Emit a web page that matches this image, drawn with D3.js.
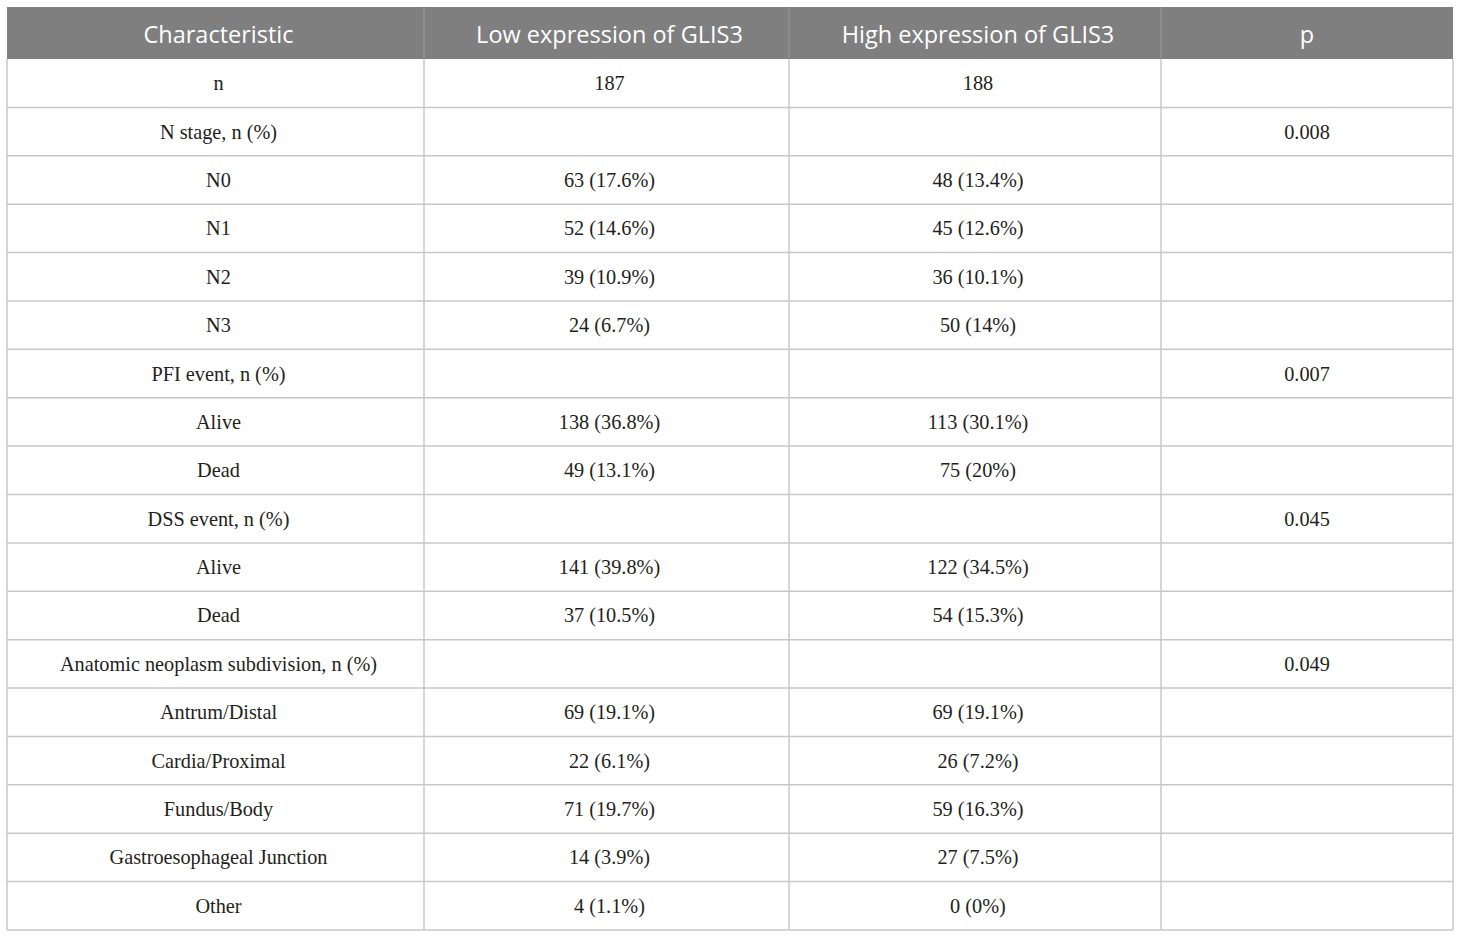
<!DOCTYPE html>
<html>
<head>
<meta charset="utf-8">
<script src="https://cdn.jsdelivr.net/npm/d3@7"></script>
<style>
  body { margin: 0; background: #fff; }
</style>
</head>
<body>
<svg id="chart" width="1460" height="938"></svg>
<script>
// table content
var headers = ['Characteristic', 'Low expression of GLIS3', 'High expression of GLIS3', 'p'];
var characteristics = ['n', 'N stage, n (%)', 'N0', 'N1', 'N2', 'N3', 'PFI event, n (%)', 'Alive', 'Dead',
    'DSS event, n (%)', 'Alive', 'Dead', 'Anatomic neoplasm subdivision, n (%)', 'Antrum/Distal',
    'Cardia/Proximal', 'Fundus/Body', 'Gastroesophageal Junction', 'Other'];
var lowExpr = ['187', '', '63 (17.6%)', '52 (14.6%)', '39 (10.9%)', '24 (6.7%)', '', '138 (36.8%)', '49 (13.1%)',
    '', '141 (39.8%)', '37 (10.5%)', '', '69 (19.1%)', '22 (6.1%)', '71 (19.7%)', '14 (3.9%)', '4 (1.1%)'];
var highExpr = ['188', '', '48 (13.4%)', '45 (12.6%)', '36 (10.1%)', '50 (14%)', '', '113 (30.1%)', '75 (20%)',
    '', '122 (34.5%)', '54 (15.3%)', '', '69 (19.1%)', '26 (7.2%)', '59 (16.3%)', '27 (7.5%)', '0 (0%)'];
var pValues = ['', '0.008', '', '', '', '', '0.007', '', '', '0.045', '', '', '0.049', '', '', '', '', ''];

var rows = characteristics.map(function (c, i) {
    return [c, lowExpr[i], highExpr[i], pValues[i]];
});

var svg = d3.select('#chart');
var tableLeft = 7, tableRight = 1453, tableTop = 7, headH = 52, tableBottom = 930;
var colEdges = [tableLeft, 424, 789, 1161, tableRight];
var textShift = [3, 3, 3, 0]; // cells are padded a little more on the left

function colMid(i) { return (colEdges[i] + colEdges[i + 1]) / 2 + textShift[i]; }

// row scale
var y = d3.scaleBand()
    .domain(d3.range(rows.length))
    .range([tableTop + headH, tableBottom])
    .paddingInner(0);

// header
svg.append('rect')
    .attr('x', tableLeft).attr('y', tableTop)
    .attr('width', tableRight - tableLeft).attr('height', headH)
    .attr('fill', '#7f7f7f');

svg.selectAll('.hline')
    .data(d3.range(1, headers.length))
    .enter().append('line')
    .attr('x1', function (d) { return colEdges[d]; })
    .attr('x2', function (d) { return colEdges[d]; })
    .attr('y1', tableTop).attr('y2', tableTop + headH)
    .style('stroke', '#9a9a9a')
    .style('stroke-width', 1);

svg.selectAll('.htext')
    .data(headers)
    .enter().append('text')
    .attr('x', function (d, i) { return colMid(i); })
    .attr('y', tableTop + headH / 2 + 1)
    .attr('text-anchor', 'middle')
    .attr('dominant-baseline', 'central')
    .style('font-family', '"Open Sans", sans-serif')
    .style('font-size', '23.5px')
    .style('fill', '#ffffff')
    .text(function (d) { return d; });

// body grid
var grid = svg.append('g')
    .style('stroke', '#c8c8c8')
    .style('stroke-width', 1.5)
    .style('fill', 'none');

grid.selectAll('.rowline')
    .data(d3.range(rows.length))
    .enter().append('line')
    .attr('x1', tableLeft).attr('x2', tableRight)
    .attr('y1', function (d) { return y(d) + y.bandwidth(); })
    .attr('y2', function (d) { return y(d) + y.bandwidth(); });

grid.selectAll('.colline')
    .data(colEdges)
    .enter().append('line')
    .attr('x1', function (d) { return d; })
    .attr('x2', function (d) { return d; })
    .attr('y1', tableTop + headH).attr('y2', tableBottom);

// cell text
var rowG = svg.selectAll('.row')
    .data(rows)
    .enter().append('g')
    .attr('transform', function (d, i) { return 'translate(0,' + (y(i) + y.bandwidth() / 2) + ')'; });

rowG.selectAll('text')
    .data(function (d) { return d; })
    .enter().append('text')
    .attr('x', function (d, i) { return colMid(i); })
    .attr('y', 0)
    .attr('text-anchor', 'middle')
    .attr('dominant-baseline', 'central')
    .style('font-family', '"Liberation Serif", "Times New Roman", serif')
    .style('font-size', '20.3px')
    .style('fill', '#231f20')
    .text(function (d) { return d; });
</script>
</body>
</html>
